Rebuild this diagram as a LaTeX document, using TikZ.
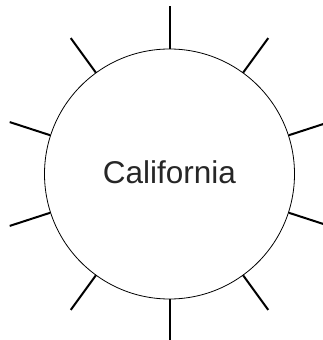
\documentclass[tikz,border=0pt]{standalone}
\usepackage{fontspec}
\setmainfont{Liberation Sans}
\usetikzlibrary{calc}
\begin{document}
\begin{tikzpicture}[x=1pt,y=1pt,
  ring/.style={circle,draw=black,line width=0.8pt,minimum size=250pt,inner sep=0pt},
  spoke/.style={line width=2pt,draw=black},
  label/.style={anchor=base,inner sep=0pt,text=black!85,font=\fontsize{31.5}{36}\selectfont}]
\useasboundingbox (0,0) rectangle (323,340);
\clip (0,0) rectangle (323,340);
\node[ring] (c) at (169.5,166) {};
\node[label] (t) at (169.5,156.7) {California};
\foreach \a in {90,54,18,-18,-54,-90,-126,-162,162,126}{
  \coordinate (e\a) at ($(c.center)+(\a:168)$);
  \draw[spoke] (c.\a) -- (e\a);
}
\end{tikzpicture}
\end{document}
